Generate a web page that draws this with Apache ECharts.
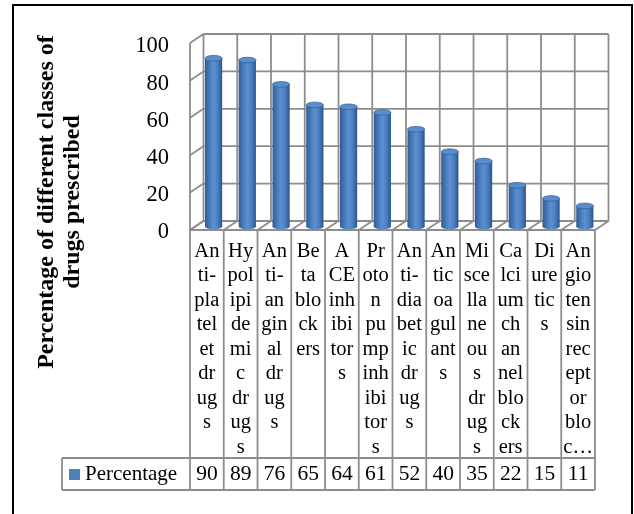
<!DOCTYPE html>
<html>
<head>
<meta charset="utf-8">
<script src="https://cdn.jsdelivr.net/npm/echarts@6/dist/echarts.min.js"></script>
<style>
  html, body { margin: 0; padding: 0; background: #fff; }
  #chart { width: 634px; height: 514px; }
</style>
</head>
<body>
<div id="chart"></div>
<script>
// Drug classes, as they wrap inside the narrow data-table cells
const categoryLines = [
  ['An', 'ti-', 'pla', 'tel', 'et', 'dr', 'ug', 's'],
  ['Hy', 'pol', 'ipi', 'de', 'mi', 'c', 'dr', 'ug', 's'],
  ['An', 'ti-', 'an', 'gin', 'al', 'dr', 'ug', 's'],
  ['Be', 'ta', 'blo', 'ck', 'ers'],
  ['A', 'CE', 'inh', 'ibi', 'tor', 's'],
  ['Pr', 'oto', 'n', 'pu', 'mp', 'inh', 'ibi', 'tor', 's'],
  ['An', 'ti-', 'dia', 'bet', 'ic', 'dr', 'ug', 's'],
  ['An', 'tic', 'oa', 'gul', 'ant', 's'],
  ['Mi', 'sce', 'lla', 'ne', 'ou', 's', 'dr', 'ug', 's'],
  ['Ca', 'lci', 'um', 'ch', 'an', 'nel', 'blo', 'ck', 'ers'],
  ['Di', 'ure', 'tic', 's'],
  ['An', 'gio', 'ten', 'sin', 'rec', 'ept', 'or', 'blo', 'c\u2026']
];
const categories = categoryLines.map(l => l.join('\n'));

// Percentage of prescriptions per class
const seriesName = 'Percentage';
const values = [90, 89, 76, 65, 64, 61, 52, 40, 35, 22, 15, 11];

// Value axis
const yMin = 0, yMax = 100, yStep = 20;
const yTicks = [0, 20, 40, 60, 80, 100];

const yTitle = 'Percentage of different classes of\ndrugs prescribed';

// ---- drawing constants ----
const FONT = '"Liberation Serif", "Times New Roman", serif';
const GRID_COLOR = '#8d8d8d';
const DEPTH = [13.5, -9];        // offset from the front plane to the back wall
const BAR_SHIFT = [6.7, -3.5];   // bars stand midway in the depth
const VALUE_ROW_TOP = 458;
const VALUE_ROW_BOTTOM = 490;
const LEGEND_CELL_LEFT = 62;

const chart = echarts.init(document.getElementById('chart'), null, { renderer: 'canvas' });

function seg(x1, y1, x2, y2, color, w) {
  return { type: 'line', shape: { x1, y1, x2, y2 },
           style: { stroke: color || GRID_COLOR, lineWidth: w || 1.8 }, silent: true };
}

// Back wall, side wall, floor and data-table rules
function renderFrame(params, api) {
  const i = api.value(0);
  const n = categories.length;
  const bw = api.size([1, 0])[0];
  const c0 = api.coord([i, yMin]);
  const yTop = api.coord([i, yMax])[1];
  const y0 = c0[1];
  const xl = c0[0] - bw / 2;
  const [dx, dy] = DEPTH;
  const kids = [];

  const bounds = [xl];
  if (i === n - 1) bounds.push(xl + bw);
  bounds.forEach(xb => {
    kids.push(seg(xb + dx, yTop + dy, xb + dx, y0 + dy));   // back wall column rule
    kids.push(seg(xb, y0, xb + dx, y0 + dy));               // floor diagonal
    kids.push(seg(xb, y0, xb, VALUE_ROW_BOTTOM));           // table column rule
  });

  if (i === 0) {
    const xr = xl + bw * n;
    yTicks.forEach(t => {
      const yt = api.coord([0, t])[1];
      kids.push(seg(xl + dx, yt + dy, xr + dx, yt + dy));   // back wall row rule
      kids.push(seg(xl, yt, xl + dx, yt + dy));             // side wall diagonal
    });
    kids.push(seg(xl, yTop, xl, y0));                       // side wall front edge
    kids.push(seg(xl, y0, xr, y0));                         // floor front / table top
    kids.push(seg(LEGEND_CELL_LEFT, VALUE_ROW_TOP, xr, VALUE_ROW_TOP));
    kids.push(seg(LEGEND_CELL_LEFT, VALUE_ROW_BOTTOM, xr, VALUE_ROW_BOTTOM));
    kids.push(seg(LEGEND_CELL_LEFT, VALUE_ROW_TOP, LEGEND_CELL_LEFT, VALUE_ROW_BOTTOM));
  }
  return { type: 'group', children: kids };
}

// Cylindrical columns
function renderBar(params, api) {
  const i = api.value(0), v = api.value(1);
  const top = api.coord([i, v]);
  const base = api.coord([i, 0]);
  const cx = top[0] + BAR_SHIFT[0];
  const yt = top[1] + BAR_SHIFT[1];
  const yb = base[1] + BAR_SHIFT[1];
  const r = 8.6, ry = 2.8;
  const body = () => new echarts.graphic.LinearGradient(0, 0, 1, 0, [
    { offset: 0, color: '#2f5d97' },
    { offset: 0.35, color: '#4f83c4' },
    { offset: 0.5, color: '#5c90d1' },
    { offset: 0.75, color: '#4a7dbd' },
    { offset: 1, color: '#2a548b' }
  ]);
  return {
    type: 'group',
    children: [
      { type: 'ellipse', shape: { cx, cy: yb, rx: r, ry }, style: { fill: body() } },
      { type: 'rect', shape: { x: cx - r, y: yt, width: 2 * r, height: yb - yt }, style: { fill: body() } },
      { type: 'ellipse', shape: { cx, cy: yt, rx: r, ry },
        style: { fill: '#5a8dcc', stroke: '#35649e', lineWidth: 0.8 } }
    ]
  };
}

const option = {
  backgroundColor: '#fff',
  animation: false,
  grid: [
    // front plane of the 3-D plot
    { left: 190, right: 39, top: 43, bottom: 284, containLabel: false },
    // tick labels sit slightly below the front plane
    { left: 190, right: 39, top: 46.5, bottom: 281.5, containLabel: false }
  ],
  legend: {
    data: [seriesName],
    left: 69, top: 464, padding: 0,
    icon: 'rect', itemWidth: 11, itemHeight: 11,
    textStyle: { fontFamily: FONT, fontSize: 21, color: '#000', lineHeight: 21 }
  },
  xAxis: [
    {
      type: 'category', data: categories, position: 'bottom', gridIndex: 0,
      axisLine: { show: false }, axisTick: { show: false }, splitLine: { show: false },
      axisLabel: {
        interval: 0, margin: 9, fontFamily: FONT, fontSize: 20.5, lineHeight: 24.5,
        color: '#000', align: 'center', verticalAlign: 'top'
      }
    },
    {
      type: 'category', data: categories, position: 'bottom', gridIndex: 0,
      offset: VALUE_ROW_TOP - 230,
      axisLine: { show: false }, axisTick: { show: false }, splitLine: { show: false },
      axisLabel: {
        interval: 0, margin: 6, fontFamily: FONT, fontSize: 21.5, lineHeight: 21,
        color: '#000', verticalAlign: 'top',
        formatter: (val, idx) => String(values[idx])
      }
    },
    {
      type: 'category', data: categories, gridIndex: 1, show: false
    }
  ],
  yAxis: [
    {
      type: 'value', min: yMin, max: yMax, interval: yStep, gridIndex: 0,
      axisLine: { show: false }, axisTick: { show: false }, splitLine: { show: false },
      axisLabel: { show: false }
    },
    {
      type: 'value', min: yMin, max: yMax, interval: yStep, gridIndex: 1,
      axisLine: { show: false }, axisTick: { show: false }, splitLine: { show: false },
      axisLabel: { margin: 21, fontFamily: FONT, fontSize: 22.5, color: '#000' }
    }
  ],
  graphic: [
    {
      type: 'rect', shape: { x: 13, y: 5, width: 619, height: 540 },
      style: { fill: 'none', stroke: '#000', lineWidth: 2 }, silent: true, z: 0
    },
    {
      type: 'text', x: 60, y: 202, rotation: Math.PI / 2,
      style: {
        text: yTitle, fontFamily: FONT, fontSize: 24, fontWeight: 'bold', lineHeight: 26,
        fill: '#000', align: 'center', verticalAlign: 'middle'
      }
    }
  ],
  series: [
    {
      type: 'custom', name: 'frame', renderItem: renderFrame, z: 1, silent: true,
      xAxisIndex: 0, yAxisIndex: 0,
      data: categories.map((c, i) => [i, 0]), encode: { x: 0, y: 1 }
    },
    {
      type: 'custom', name: seriesName, renderItem: renderBar, z: 2,
      xAxisIndex: 0, yAxisIndex: 0,
      itemStyle: { color: '#4f81bd' },
      data: values.map((v, i) => [i, v]), encode: { x: 0, y: 1 }
    }
  ]
};

chart.setOption(option);
</script>
</body>
</html>
